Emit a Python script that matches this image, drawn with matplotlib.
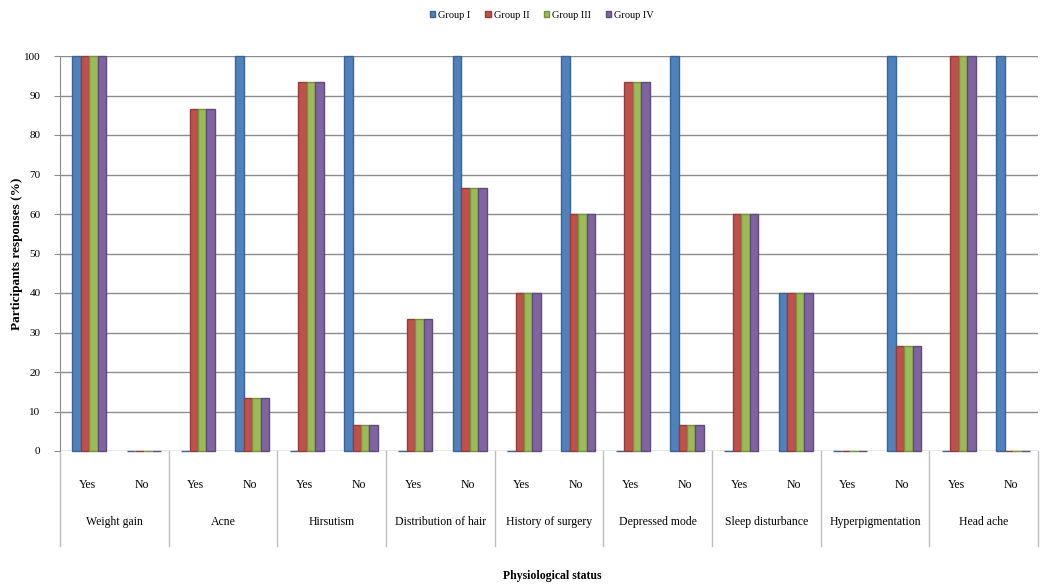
import matplotlib.pyplot as plt
import matplotlib.transforms as mtransforms
import numpy as np

plt.rcParams['font.family'] = ['Liberation Serif', 'DejaVu Serif']

conditions = ['Weight gain', 'Acne', 'Hirsutism', 'Distribution of hair',
              'History of surgery', 'Depressed mode', 'Sleep disturbance',
              'Hyperpigmentation', 'Head ache']
answers = ['Yes', 'No']
groups = ['Group I', 'Group II', 'Group III', 'Group IV']

# values per (condition, answer) slot, in order Yes/No for each condition
group1 = [100, 0, 0, 100, 0, 100, 0, 100, 0, 100, 0, 100, 0, 40, 0, 100, 0, 100]
group2 = [100, 0, 86.7, 13.3, 93.3, 6.7, 33.3, 66.7, 40, 60, 93.3, 6.7, 60, 40, 0, 26.7, 100, 0]
group3 = [100, 0, 86.7, 13.3, 93.3, 6.7, 33.3, 66.7, 40, 60, 93.3, 6.7, 60, 40, 0, 26.7, 100, 0]
group4 = [100, 0, 86.7, 13.3, 93.3, 6.7, 33.3, 66.7, 40, 60, 93.3, 6.7, 60, 40, 0, 26.7, 100, 0]

colors = ['#4F81BD', '#C0504D', '#9BBB59', '#8064A2']
edges = ['#3A6496', '#943C3A', '#76923C', '#5F4B7A']

fig = plt.figure(figsize=(10.4, 5.88), dpi=100)
ax = fig.add_axes([60 / 1040, 1 - 451 / 588, 978 / 1040, 395 / 588])

x = np.arange(len(group1))
w = 0.155
series = [group1, group2, group3, group4]
for i, (vals, c, ec, name) in enumerate(zip(series, colors, edges, groups)):
    ax.bar(x + (i - 1.5) * w + 0.04, vals, width=w, color=c, edgecolor=ec,
           linewidth=1.0, label=name, zorder=3, clip_on=False)

ax.set_xlim(-0.5, len(x) - 0.5)
ax.set_ylim(0, 100)
ax.set_yticks(range(0, 101, 10))
ax.yaxis.grid(True, color='#8c8c8c', linewidth=1.0, zorder=0)
ax.set_axisbelow(True)
for s in ['top', 'right', 'bottom']:
    ax.spines[s].set_visible(False)
ax.spines['left'].set_color('#8c8c8c')
ax.tick_params(axis='y', labelsize=8, color='#8c8c8c', length=4, pad=10)

# two-level category axis
ax.set_xticks(x)
ax.set_xticklabels(answers * len(conditions), fontsize=8.5)
ax.tick_params(axis='x', length=0, pad=20)
trans = mtransforms.blended_transform_factory(ax.transData, ax.transAxes)
for k, cond in enumerate(conditions):
    ax.text(2 * k + 0.5, -0.18, cond, transform=trans, ha='center',
            va='center', fontsize=8.5)
for k in range(len(conditions) + 1):
    ax.plot([2 * k - 0.5, 2 * k - 0.5], [0, -0.24], transform=trans,
            color='#bfbfbf', linewidth=1.0, clip_on=False)

ax.set_ylabel('Participants responses (%)', fontsize=9.5, fontweight='bold')
ax.yaxis.set_label_coords(-37 / 978, 0.5)
fig.text(552 / 1040, 1 - 576 / 588, 'Physiological status', ha='center',
         va='center', fontsize=8.5, fontweight='bold')

fig.legend(loc='center', bbox_to_anchor=(542 / 1040, 1 - 15 / 588), ncol=4,
           frameon=False, fontsize=7.5, handlelength=0.5, handleheight=0.5,
           handletextpad=0.3, columnspacing=1.4)

fig.savefig('out.png', dpi=100)
